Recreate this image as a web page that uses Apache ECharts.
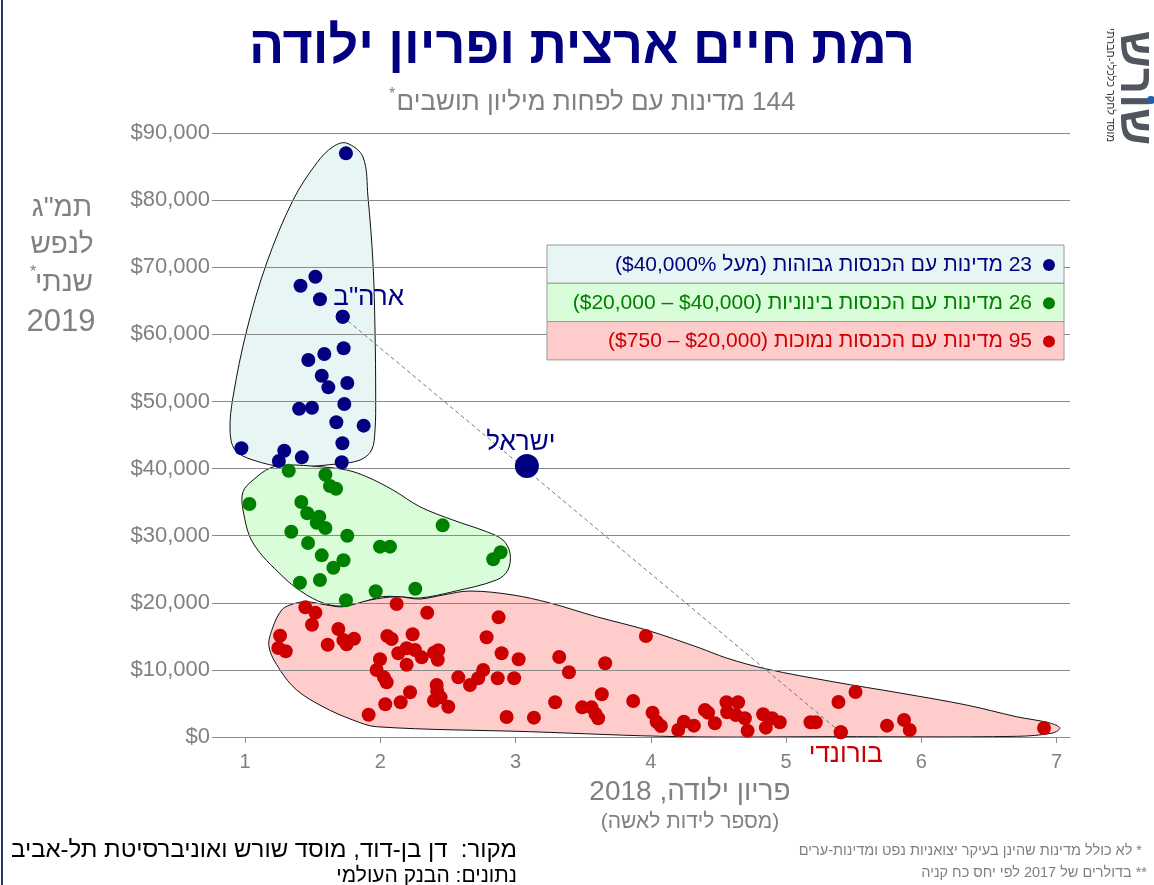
<!DOCTYPE html>
<html><head><meta charset="utf-8">
<script src="https://cdn.jsdelivr.net/npm/echarts@6/dist/echarts.min.js"></script>
<style>html,body{margin:0;padding:0;background:#fff}#c{width:1154px;height:885px}</style>
</head><body><div id="c" dir="rtl"></div>
<script>
// ---------- DATA ----------
const xTicks = [1, 2, 3, 4, 5, 6, 7];
const yTicks = [0, 10000, 20000, 30000, 40000, 50000, 60000, 70000, 80000, 90000];

const highIncome = [[1.746,86970],[1.52,68590],[1.41,67250],[1.554,65220],[1.722,62630],[1.729,57920],[1.586,57070],[1.468,56170],[1.567,53830],[1.616,52100],[1.756,52750],[1.734,49620],[1.40,48920],[1.495,49070],[1.675,46890],[1.877,46390],[0.973,43020],[1.29,42660],[1.72,43760],[1.25,41120],[1.42,41670],[1.715,40930]];
const middleIncome = [[1.323,39680],[1.594,39080],[1.628,37400],[1.673,37000],[1.032,34720],[1.416,35015],[1.46,33330],[1.549,32830],[1.53,31930],[1.594,31140],[2.461,31540],[1.342,30590],[1.756,29990],[1.466,28900],[1.998,28360],[2.072,28360],[2.89,27520],[2.835,26480],[1.567,27070],[1.728,26330],[1.653,25230],[1.406,22990],[1.554,23390],[1.966,21710],[2.259,22100],[1.746,20370]];
const lowIncome = [[2.121,19820],[1.446,19320],[1.52,18520],[2.347,18520],[1.495,16730],[2.875,17830],[1.69,16090],[1.259,15090],[1.727,14450],[1.806,14650],[1.751,13810],[2.052,15050],[2.084,14600],[2.239,15300],[2.786,14860],[3.964,15050],[1.246,13260],[1.301,12770],[1.611,13750],[2.133,12470],[2.195,13220],[2.257,12960],[2.306,11870],[2.397,12560],[2.429,12920],[2.425,11520],[1.998,11580],[2.195,10770],[2.897,12470],[3.023,11580],[3.323,11920],[3.663,10980],[1.973,9980],[2.027,8890],[2.047,8150],[2.577,8890],[2.761,9980],[2.724,8750],[2.663,7750],[2.868,8750],[2.99,8750],[3.395,9640],[2.417,7750],[2.421,6850],[2.446,5910],[2.397,5410],[2.503,4510],[2.22,6660],[2.151,5170],[2.037,4870],[1.914,3320],[2.934,2980],[3.136,2880],[3.293,5170],[3.493,4420],[3.562,4420],[3.592,3430],[3.611,2790],[3.638,6360],[3.87,5360],[4.013,3620],[4.043,2280],[4.075,1640],[4.203,1040],[4.245,2280],[4.319,1690],[4.4,4020],[4.424,3620],[4.474,2040],[4.56,5170],[4.565,3680],[4.646,5170],[4.629,3280],[4.696,2790],[4.716,940],[4.831,3380],[4.897,2790],[4.851,1390],[4.954,2190],[5.181,2190],[5.22,2190],[5.405,700],[5.388,5220],[5.514,6710],[5.747,1690],[5.873,2530],[5.915,1040],[6.908,1340]];

const israel = [3.084, 40380];
const usa = [1.722, 62630];
const burundi = [5.405, 700];

// outlines of the three groups (data units)
const hullHigh = [[1.75,88500],[1.872,86420],[1.909,80460],[1.946,70630],[1.961,60640],[1.966,50660],[1.961,45740],[1.936,42760],[1.85,41270],[1.678,40680],[1.308,40230],[1.059,41270],[0.926,42760],[0.889,45740],[0.911,50660],[1.013,60640],[1.16,70630],[1.355,80010],[1.53,85530],[1.65,87950]];
const hullMiddle = [[1.185,40080],[1.308,40530],[1.554,40270],[1.752,39780],[1.9,38780],[2.094,36800],[2.293,34310],[2.537,32330],[2.786,30590],[2.907,29350],[2.959,27420],[2.944,24880],[2.86,23400],[2.537,21650],[2.293,20710],[2.146,20900],[1.998,20860],[1.798,19670],[1.628,19670],[1.456,21160],[1.281,23880],[1.059,28910],[0.985,33820],[0.985,36550],[1.059,38290]];
const hullLow = [[1.271,18920],[1.333,19670],[1.443,20160],[1.604,19670],[1.724,19410],[1.924,20410],[2.121,20900],[2.293,20560],[2.463,21160],[2.663,21750],[2.981,21160],[3.254,19970],[3.599,17920],[3.969,15940],[4.363,13260],[4.56,11770],[4.856,10130],[5.346,8240],[5.841,6560],[6.334,4770],[6.703,3030],[6.95,2090],[7.024,1340],[6.972,600],[6.703,100],[5.346,50],[4.215,50],[3.106,790],[1.973,1530],[1.798,2530],[1.576,4510],[1.382,7000],[1.259,9980],[1.177,13450],[1.207,16430]];

const legendTexts = [
  '23 מדינות עם הכנסות גבוהות (מעל $40,000%)',
  '26 מדינות עם הכנסות בינוניות ($40,000 – $20,000)',
  '95 מדינות עם הכנסות נמוכות ($20,000 – $750)'
];
const titleText = 'רמת חיים ארצית ופריון ילודה';
const subtitleText = '144 מדינות עם לפחות מיליון תושבים';
const yTitleLines = ['תמ"ג', 'לנפש', 'שנתי', '2019'];
const xTitleText = 'פריון ילודה, 2018';
const xSubTitleText = '(מספר לידות לאשה)';
const sourceText = 'מקור:  דן בן-דוד, מוסד שורש ואוניברסיטת תל-אביב';
const dataText = 'נתונים: הבנק העולמי';
const note1 = '* לא כולל מדינות שהינן בעיקר יצואניות נפט ומדינות-ערים';
const note2 = '** בדולרים של 2017 לפי יחס כח קניה';
const labelUSA = 'ארה"ב', labelIsrael = 'ישראל', labelBurundi = 'בורונדי';

// ---------- STYLE ----------
const NAVY = '#000080', GREEN = '#008000', RED = '#cc0000', GREY = '#808080';
const FONT = '"Liberation Sans", Arial, sans-serif';

function hull(pts, fill) {
  return {
    type: 'custom', z: -1, silent: true, clip: false,
    data: [pts[0]],
    renderItem: (params, api) => ({
      type: 'polygon',
      shape: { points: pts.map(p => api.coord(p)), smooth: 0.35 },
      style: { fill: fill, stroke: '#111', lineWidth: 1 }
    })
  };
}
function txt(x, y, text, font, fill, align, extra) {
  return Object.assign({ type: 'text', x: x, y: y, z: 100,
    style: { text: text, font: font, fill: fill, align: align || 'center', verticalAlign: 'middle' } }, extra || {});
}

const legendColors = [NAVY, GREEN, RED];
const legendFills = ['#e8f5f5', '#d9fcd9', '#ffcccc'];
const legendGraphics = [];
legendTexts.forEach((t, i) => {
  const y0 = 245 + i * 38.3;
  legendGraphics.push({ type: 'rect', z: 99, shape: { x: 547, y: y0, width: 517, height: 38.3 },
    style: { fill: legendFills[i], stroke: '#9a9a9a', lineWidth: 1 } });
  legendGraphics.push(txt(1032, y0 + 20, t, '21px ' + FONT, legendColors[i], 'right'));
  legendGraphics.push({ type: 'circle', z: 100, shape: { cx: 1049, cy: y0 + 20, r: 6 }, style: { fill: legendColors[i] } });
});

const labelFont = { fontSize: 26, fontFamily: FONT };
const chart = echarts.init(document.getElementById('c'), null, { renderer: 'canvas' });
chart.setOption({
  animation: false,
  backgroundColor: '#fff',
  grid: { left: 218, right: 84, top: 133, bottom: 148 },
  xAxis: {
    type: 'value', min: 0.8, max: 7.1,
    axisLine: { show: true, lineStyle: { color: '#8a8a8a', width: 1 } },
    axisTick: { show: true, length: 6, lineStyle: { color: '#8a8a8a' }, customValues: xTicks },
    axisLabel: { color: GREY, fontSize: 20, fontFamily: FONT, margin: 15, customValues: xTicks },
    splitLine: { show: false }
  },
  yAxis: {
    type: 'value', min: yTicks[0], max: yTicks[yTicks.length - 1], interval: yTicks[1] - yTicks[0],
    axisLine: { show: false },
    axisTick: { show: true, length: 6, lineStyle: { color: '#8a8a8a' } },
    axisLabel: { color: GREY, fontSize: 22, fontFamily: FONT, margin: 8,
      formatter: v => '$' + v.toLocaleString('en-US') },
    splitLine: { show: true, lineStyle: { color: '#8a8a8a', width: 1 } }
  },
  series: [
    hull(hullHigh, '#e8f5f5'),
    hull(hullMiddle, '#d9fcd9'),
    hull(hullLow, '#ffcccc'),
    { type: 'line', data: [usa, burundi], symbol: 'none', z: 3, silent: true,
      lineStyle: { color: '#777', width: 1, type: [4, 3] } },
    { type: 'scatter', data: highIncome, symbolSize: 14, itemStyle: { color: NAVY, opacity: 1 }, z: 4 },
    { type: 'scatter', data: middleIncome, symbolSize: 14, itemStyle: { color: GREEN, opacity: 1 }, z: 4 },
    { type: 'scatter', data: lowIncome, symbolSize: 14, itemStyle: { color: RED, opacity: 1 }, z: 4 },
    { type: 'scatter', z: 5, silent: true,
      data: [
        { value: israel, symbolSize: 24, itemStyle: { color: NAVY, opacity: 1 },
          label: Object.assign({ show: true, formatter: labelIsrael, position: 'inside', offset: [-6, -23], color: NAVY }, labelFont) },
        { value: usa, symbolSize: 14, itemStyle: { color: NAVY, opacity: 1 },
          label: Object.assign({ show: true, formatter: labelUSA, position: 'inside', offset: [26, -19], color: NAVY }, labelFont) },
        { value: burundi, symbolSize: 14, itemStyle: { color: RED, opacity: 1 },
          label: Object.assign({ show: true, formatter: labelBurundi, position: 'inside', offset: [5, 23], color: RED }, labelFont) }
      ] }
  ],
  graphic: [
    { type: 'line', z: 100, shape: { x1: 2, y1: 0, x2: 2, y2: 885 }, style: { stroke: '#1f3a6e', lineWidth: 2 } },
    txt(582, 49, titleText, 'bold 52px ' + FONT, NAVY),
    txt(596, 103, subtitleText, '26px ' + FONT, GREY),
    txt(392, 95, '*', '16px ' + FONT, GREY),
    txt(62, 208, yTitleLines[0], '28px ' + FONT, GREY),
    txt(62, 245, yTitleLines[1], '28px ' + FONT, GREY),
    txt(64, 283, yTitleLines[2], '28px ' + FONT, GREY),
    txt(33, 273, '*', '16px ' + FONT, GREY),
    txt(61, 322, yTitleLines[3], '31px ' + FONT, GREY),
    txt(690, 792, xTitleText, '28px ' + FONT, GREY),
    txt(690, 822, xSubTitleText, '21px ' + FONT, GREY),
    txt(517, 850, sourceText, '24px ' + FONT, '#000', 'right'),
    txt(517, 876, dataText, '21px ' + FONT, '#000', 'right'),
    txt(1142, 851, note1, '14.5px ' + FONT, GREY, 'right'),
    txt(1147, 873, note2, '14.5px ' + FONT, GREY, 'right'),
    txt(1134, 88, 'שורש', 'bold 46px ' + FONT, '#50555f', 'center', { rotation: -Math.PI / 2 }),
    { type: 'circle', z: 100, shape: { cx: 1151, cy: 100, r: 4 }, style: { fill: '#1d5fb0' } },
    txt(1110, 85, 'מוסד לחקר כלכלי-חברתי', '11px ' + FONT, '#333', 'center', { rotation: -Math.PI / 2 })
  ].concat(legendGraphics)
});
</script></body></html>
